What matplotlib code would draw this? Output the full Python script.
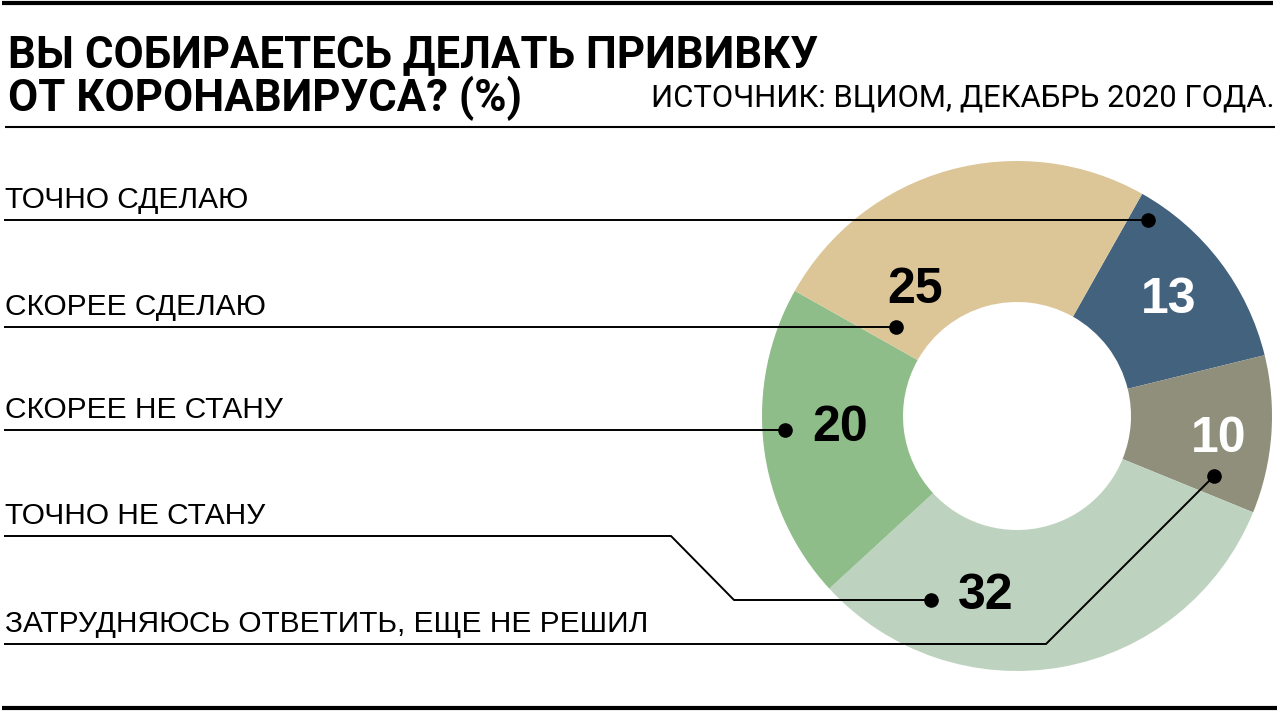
import matplotlib
matplotlib.use("Agg")
import matplotlib.pyplot as plt

# данные (ВЦИОМ, декабрь 2020), в порядке секторов по часовой стрелке от верха
categories = ["ТОЧНО СДЕЛАЮ", "ЗАТРУДНЯЮСЬ ОТВЕТИТЬ, ЕЩЕ НЕ РЕШИЛ",
              "ТОЧНО НЕ СТАНУ", "СКОРЕЕ НЕ СТАНУ", "СКОРЕЕ СДЕЛАЮ"]
values = [13, 10, 32, 20, 25]
colors = ["#43627e", "#8f8f7c", "#bed3bf", "#8fbd89", "#dcc698"]
num_colors = ["white", "white", "black", "black", "black"]

# порядок подписей слева
label_order = ["ТОЧНО СДЕЛАЮ", "СКОРЕЕ СДЕЛАЮ", "СКОРЕЕ НЕ СТАНУ",
               "ТОЧНО НЕ СТАНУ", "ЗАТРУДНЯЮСЬ ОТВЕТИТЬ, ЕЩЕ НЕ РЕШИЛ"]

title_lines = ["ВЫ СОБИРАЕТЕСЬ ДЕЛАТЬ ПРИВИВКУ", "ОТ КОРОНАВИРУСА? (%)"]
source = "ИСТОЧНИК: ВЦИОМ, ДЕКАБРЬ 2020 ГОДА."

# layout in pixels (y grows downward)
W, H = 1280, 718
cx, cy, R, ring = 1017, 416, 255, 141
num_xy = [(1169, 313), (1219, 452), (986, 609), (840, 441), (915, 303)]
leaders = {
    "ТОЧНО СДЕЛАЮ": [(4, 220), (1148, 220)],
    "СКОРЕЕ СДЕЛАЮ": [(4, 327), (896, 327)],
    "СКОРЕЕ НЕ СТАНУ": [(4, 430), (785, 430)],
    "ТОЧНО НЕ СТАНУ": [(4, 536), (671, 536), (734, 600), (931, 600)],
    "ЗАТРУДНЯЮСЬ ОТВЕТИТЬ, ЕЩЕ НЕ РЕШИЛ": [(4, 644), (1046, 644), (1214, 476)],
}

condensed = ["Roboto", "Liberation Sans", "DejaVu Sans"]
regular = ["Liberation Sans", "DejaVu Sans"]

fig = plt.figure(figsize=(W / 100, H / 100), dpi=100)
ax = fig.add_axes([0, 0, 1, 1])

# y axis inverted, so counterclock=True looks clockwise on screen
ax.pie(values, colors=colors, startangle=-60.6, counterclock=True,
       center=(cx, cy), radius=R, frame=True,
       wedgeprops=dict(width=ring, linewidth=0))

ax.set_xlim(0, W)
ax.set_ylim(H, 0)
ax.axis("off")

for v, (x, y), c in zip(values, num_xy, num_colors):
    ax.text(x, y, str(v), color=c, fontsize=36, fontweight="bold",
            family=regular, ha="center", va="baseline")

for cat in label_order:
    pts = leaders[cat]
    xs = [p[0] for p in pts]
    ys = [p[1] for p in pts]
    ax.plot(xs, ys, color="black", lw=1.4, solid_capstyle="butt")
    ax.plot(xs[-1], ys[-1], "o", color="black", ms=9.5)
    ax.text(5, ys[0] - 12, cat, fontsize=21.5, family=regular,
            ha="left", va="baseline")

# rules
ax.plot([2, 1273], [3, 3], color="black", lw=3, solid_capstyle="butt")
ax.plot([5, 1275], [127, 127], color="black", lw=1.5, solid_capstyle="butt")
ax.plot([2, 1277], [708, 708], color="black", lw=3, solid_capstyle="butt")

for line, base in zip(title_lines, [67, 111]):
    ax.text(8, base, line, fontsize=31.5, fontweight="bold", family=condensed,
            ha="left", va="baseline")
ax.text(1275, 106, source, fontsize=22.3, family=condensed,
        ha="right", va="baseline")

fig.savefig("out.png", dpi=100)
